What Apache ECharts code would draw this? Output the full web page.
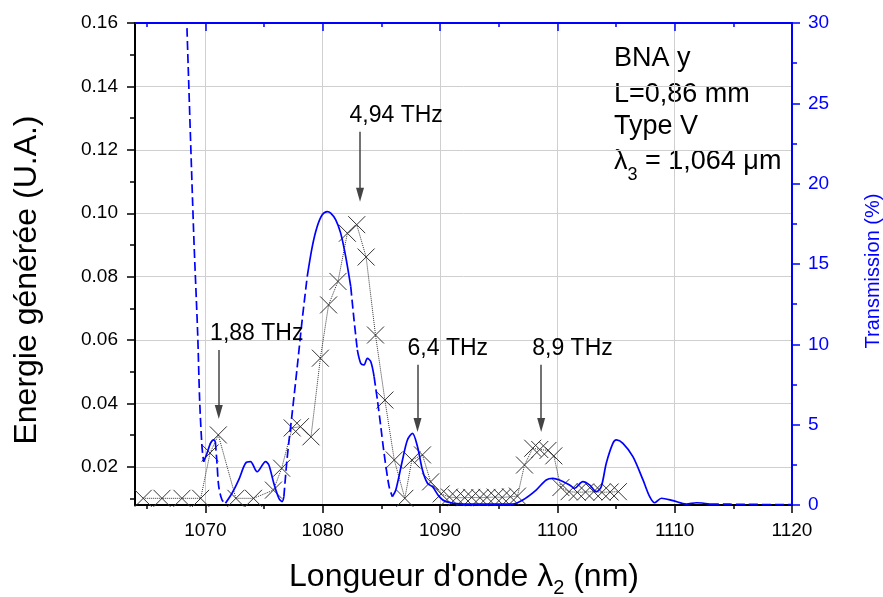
<!DOCTYPE html>
<html><head><meta charset="utf-8">
<script src="https://cdn.jsdelivr.net/npm/echarts@6/dist/echarts.min.js"></script>
<style>html,body{margin:0;padding:0;background:#fff}#c{width:883px;height:597px}</style>
</head><body><div id="c"></div>
<script>
// ---- axis ticks ----
const xMajorTicks = [1070, 1080, 1090, 1100, 1110, 1120];
const xMinorTicks = [1065, 1075, 1085, 1095, 1105, 1115];
const yLeftMajorTicks = [0.02, 0.04, 0.06, 0.08, 0.10, 0.12, 0.14, 0.16];
const yLeftMinorTicks = [0.01, 0.03, 0.05, 0.07, 0.09, 0.11, 0.13, 0.15];

// ---- generated energy (crosses, left axis) ----
const crossX = [1064.7, 1066.3, 1068.0, 1069.6, 1070.4, 1071.1, 1072.6, 1074.1, 1075.8, 1076.5,
  1077.4, 1078.1, 1079.0, 1079.8, 1080.5, 1081.3, 1082.1, 1082.9, 1083.7, 1084.5,
  1085.3, 1086.1, 1087.0, 1087.6, 1088.5, 1089.2, 1090.1, 1090.8, 1091.4, 1092.1,
  1092.7, 1093.4, 1094.0, 1094.7, 1095.3, 1096.0, 1096.6, 1097.2, 1097.9, 1098.5,
  1099.2, 1099.7, 1100.3, 1101.0, 1101.7, 1102.4, 1103.1, 1103.8, 1104.5, 1105.2];
const crossY = [0.0101, 0.0101, 0.0101, 0.0101, 0.0244, 0.0301, 0.0101, 0.0101, 0.0127, 0.0196,
  0.0323, 0.0327, 0.0295, 0.0543, 0.0711, 0.0785, 0.0937, 0.0964, 0.0862, 0.0616,
  0.0411, 0.0222, 0.0101, 0.0222, 0.0238, 0.0153, 0.0115, 0.0105, 0.0103, 0.0103,
  0.0104, 0.0103, 0.0104, 0.0105, 0.0104, 0.0106, 0.0108, 0.0206, 0.0259, 0.0255,
  0.0252, 0.0235, 0.0135, 0.0122, 0.0120, 0.0121, 0.0122, 0.0120, 0.0121, 0.0122];

// ---- transmission (blue curve, right axis, %) ----
const transX = [1068.43, 1069.0, 1069.34, 1069.51, 1069.71, 1069.85, 1070.14, 1070.43, 1070.71, 1070.85,
  1070.99, 1071.14, 1071.42, 1071.71, 1072.27, 1072.84, 1073.42, 1073.84, 1074.41, 1075.13,
  1075.41, 1075.83, 1076.26, 1076.54, 1076.69, 1076.97, 1077.40, 1077.83, 1078.25, 1078.68,
  1079.11, 1079.53, 1079.96, 1080.39, 1080.68, 1081.11, 1081.53, 1081.96, 1082.39, 1082.67,
  1082.95, 1083.24, 1083.52, 1083.80, 1084.10, 1084.38, 1084.66, 1084.95, 1085.23, 1085.66,
  1085.94, 1086.23, 1086.80, 1087.22, 1087.65, 1088.08, 1088.50, 1088.93, 1089.36, 1089.93,
  1090.50, 1091.92, 1096.17, 1097.05, 1098.19, 1099.05, 1099.61, 1100.18, 1101.04, 1101.46,
  1102.17, 1102.74, 1103.32, 1103.74, 1104.17, 1104.73, 1105.03, 1105.59, 1106.44, 1107.30,
  1107.87, 1108.30, 1108.87, 1109.86, 1111.00, 1111.86, 1113.0, 1116.0, 1120.0];
const transT = [29.68, 16.94, 10.71, 6.54, 3.63, 2.69, 3.22, 3.84, 4.05, 3.94,
  2.60, 1.14, 0.31, 0.11, 0.73, 1.56, 2.60, 2.70, 2.07, 2.70,
  2.49, 1.35, 0.42, 0.21, 0.52, 2.93, 5.73, 8.61, 11.52, 14.22,
  16.08, 17.33, 18.06, 18.26, 18.16, 17.75, 16.92, 15.46, 13.59, 11.52,
  9.65, 8.82, 8.72, 9.13, 8.92, 7.99, 6.54, 4.88, 3.22, 1.14,
  0.52, 0.93, 2.80, 4.05, 4.46, 3.63, 2.18, 1.35, 1.14, 0.52,
  0.21, 0.06, 0.06, 0.31, 0.93, 1.56, 1.66, 1.56, 1.25, 1.04,
  1.45, 1.25, 0.83, 1.14, 2.60, 3.84, 4.05, 3.84, 3.01, 1.56,
  0.52, 0.14, 0.42, 0.27, 0.06, 0.14, 0.06, 0.04, 0.02];
// wavelength ranges where the transmission trace appears dashed
const transDashedRanges = [[1068.43, 1069.85], [1070.85, 1071.71], [1076.69, 1078.68],
  [1082.39, 1082.95], [1084.38, 1085.94], [1113.0, 1120.0]];

// ---- peak annotations ----
const peakLabels = ['1,88 THz', '4,94 THz', '6,4 THz', '8,9 THz'];
const peakArrowX = [1071.14, 1083.18, 1088.08, 1098.62];
const peakArrowTop = [0.0569, 0.1257, 0.0522, 0.0522];
const peakArrowHead = [0.0373, 0.1058, 0.0332, 0.0332];
const peakLabelX = [1074.38, 1086.26, 1090.66, 1101.29];
const peakLabelY = [0.0620, 0.1307, 0.0572, 0.0572];

const infoLines = ['BNA y', 'L=0,86 mm', 'Type V', 'λ{s|3} = 1,064 μm'];

// ---------------------------------------------------------------
const FONT = '"Liberation Sans", Arial, sans-serif';
const BLUE = '#0000ff';
const inDash = x => transDashedRanges.some(r => x >= r[0] && x <= r[1]);
const inDashStrict = x => transDashedRanges.some(r => x > r[0] && x < r[1]);
const solidData = transX.map((x, i) => [x, inDashStrict(x) ? '-' : transT[i]]);
const dashedData = transX.map((x, i) => [x, inDash(x) ? transT[i] : '-']);
const crossData = crossX.map((x, i) => [x, crossY[i]]);

const chart = echarts.init(document.getElementById('c'));
const xBase = {type: 'value', min: 1064, max: 1120, axisLine: {onZero: false}};
const yLeftBase = {type: 'value', min: 0.008, max: 0.16, position: 'left', axisLine: {onZero: false}};

chart.setOption({
  animation: false,
  textStyle: {fontFamily: FONT},
  grid: {left: 135, right: 91, top: 23, bottom: 92, containLabel: false},
  xAxis: [
    Object.assign({}, xBase, {position: 'bottom',
      axisLine: {onZero: false, lineStyle: {color: '#000', width: 2}},
      axisTick: {length: 8, customValues: xMajorTicks, lineStyle: {color: '#000', width: 1.5}},
      axisLabel: {customValues: xMajorTicks, formatter: v => String(v), fontSize: 19, color: '#000',
        margin: 16, fontFamily: FONT},
      splitLine: {show: true, lineStyle: {color: '#cfcfcf', width: 1}}}),
    Object.assign({}, xBase, {position: 'bottom',
      axisLine: {show: false, onZero: false},
      axisTick: {length: 4, customValues: xMinorTicks, lineStyle: {color: '#000', width: 1.5}},
      axisLabel: {show: false}, splitLine: {show: false}}),
    Object.assign({}, xBase, {position: 'top',
      axisLine: {onZero: false, lineStyle: {color: BLUE, width: 2}},
      axisTick: {inside: true, length: 8, customValues: xMajorTicks, lineStyle: {color: BLUE, width: 1.5}},
      axisLabel: {show: false}, splitLine: {show: false}}),
    Object.assign({}, xBase, {position: 'top',
      axisLine: {show: false, onZero: false},
      axisTick: {inside: true, length: 4, customValues: xMinorTicks, lineStyle: {color: BLUE, width: 1.5}},
      axisLabel: {show: false}, splitLine: {show: false}})
  ],
  yAxis: [
    Object.assign({}, yLeftBase, {
      axisLine: {onZero: false, lineStyle: {color: '#000', width: 2}},
      axisTick: {length: 8, customValues: yLeftMajorTicks, lineStyle: {color: '#000', width: 1.5}},
      axisLabel: {customValues: yLeftMajorTicks, formatter: v => v.toFixed(2), fontSize: 19,
        color: '#000', margin: 17, fontFamily: FONT},
      splitLine: {show: true, lineStyle: {color: '#cfcfcf', width: 1}}}),
    Object.assign({}, yLeftBase, {
      axisLine: {show: false, onZero: false},
      axisTick: {length: 5, customValues: yLeftMinorTicks, lineStyle: {color: '#000', width: 1.5}},
      axisLabel: {show: false}, splitLine: {show: false}}),
    {type: 'value', min: 0, max: 30, interval: 5, position: 'right',
      axisLine: {show: true, onZero: false, lineStyle: {color: BLUE, width: 2}},
      axisTick: {show: true, length: 8, lineStyle: {color: BLUE, width: 1.5}},
      minorTick: {show: true, splitNumber: 2, length: 5, lineStyle: {color: BLUE, width: 1.5}},
      axisLabel: {fontSize: 19, color: BLUE, margin: 16, fontFamily: FONT},
      splitLine: {show: false}}
  ],
  series: [
    {
      name: 'Energie', type: 'line', xAxisIndex: 0, yAxisIndex: 0, data: crossData,
      symbol: 'path://M0,0L10,10M10,0L0,10', symbolSize: 17, showAllSymbol: true,
      lineStyle: {color: '#333', width: 1, type: 'dotted'},
      itemStyle: {color: 'rgba(0,0,0,0)', borderColor: '#333', borderWidth: 1},
      z: 3,
      markLine: {
        silent: true, symbol: ['none', 'triangle'], symbolSize: [8, 14],
        lineStyle: {color: '#444', width: 1.5, type: 'solid'},
        itemStyle: {color: '#000'},
        label: {show: false},
        data: peakArrowX.map((x, i) => [{coord: [x, peakArrowTop[i]]}, {coord: [x, peakArrowHead[i]]}])
      },
      markPoint: {
        silent: true, symbol: 'circle', symbolSize: 1,
        itemStyle: {color: 'rgba(0,0,0,0)'},
        label: {show: true, position: 'inside', formatter: '{b}', fontSize: 23, color: '#000', fontFamily: FONT},
        data: peakLabels.map((t, i) => ({name: t, coord: [peakLabelX[i], peakLabelY[i]]}))
      }
    },
    {
      name: 'T solid', type: 'line', xAxisIndex: 0, yAxisIndex: 2, data: solidData,
      symbol: 'none', smooth: 0.3, connectNulls: false,
      lineStyle: {color: BLUE, width: 1.7}, z: 4
    },
    {
      name: 'T dashed', type: 'line', xAxisIndex: 0, yAxisIndex: 2, data: dashedData,
      symbol: 'none', smooth: 0.3, connectNulls: false,
      lineStyle: {color: BLUE, width: 1.7, type: [9, 4]}, z: 4
    }
  ],
  graphic: [
    {type: 'text', x: 27, y: 280, rotation: Math.PI / 2,
      style: {text: 'Energie générée (U.A.)', fontSize: 32, fill: '#000', align: 'center',
        verticalAlign: 'middle', fontFamily: FONT}},
    {type: 'text', x: 873, y: 271, rotation: Math.PI / 2,
      style: {text: 'Transmission (%)', fontSize: 20, fill: BLUE, align: 'center',
        verticalAlign: 'middle', fontFamily: FONT}},
    {type: 'text', x: 464, y: 577,
      style: {text: "Longueur d'onde λ{s|2} (nm)", fontSize: 32, fill: '#000', align: 'center',
        verticalAlign: 'middle', fontFamily: FONT,
        rich: {s: {fontSize: 20, padding: [22, 0, 0, 0], fontFamily: FONT}}}},
  ].concat(infoLines.map((t, i) => ({
    type: 'text', x: 614, y: [59, 95, 127, 162][i],
    style: {text: t, fontSize: 27, fill: '#000', align: 'left', verticalAlign: 'middle', fontFamily: FONT,
      rich: {s: {fontSize: 18, padding: [26, 0, 0, 0], fontFamily: FONT}}}
  })))
});
</script>
</body></html>
